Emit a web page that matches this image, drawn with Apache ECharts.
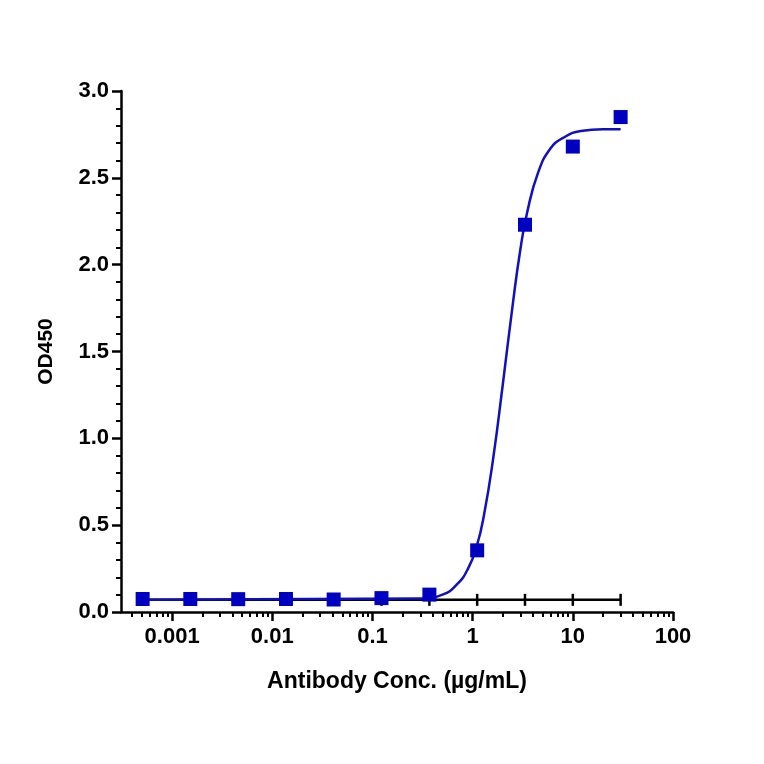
<!DOCTYPE html>
<html>
<head>
<meta charset="utf-8">
<script src="https://cdn.jsdelivr.net/npm/echarts@6/dist/echarts.min.js"></script>
<style>html,body{margin:0;background:#fff}#main{width:764px;height:764px}</style>
</head>
<body>
<div id="main"></div>
<script>
// measured points (ug/mL, OD450)
const conc = [0.000508, 0.00152, 0.00457, 0.0137, 0.041, 0.123, 0.37, 1.11, 3.33, 10, 30];
const od = [0.075, 0.075, 0.074, 0.075, 0.072, 0.08, 0.1, 0.355, 2.23, 2.68, 2.85];
// fitted curve
const fitConc = [0.0005, 0.3, 0.5, 0.7, 0.9, 1.1, 1.3, 1.6, 2.0, 2.5, 3.0, 3.5, 4.5, 6, 8, 12, 20, 30];
const fitOd = [0.07, 0.078, 0.1, 0.16, 0.25, 0.38, 0.56, 0.88, 1.31, 1.76, 2.09, 2.3, 2.53, 2.67, 2.73, 2.77, 2.78, 2.78];
const xTickLabels = ['0.001', '0.01', '0.1', '1', '10', '100'];

const lg = v => Math.log10(v);
const xMin = -3.51;
const majors = xTickLabels.map(s => lg(parseFloat(s)));
const minors = [];
for (let d = -4; d < 2; d++) for (let k = 2; k <= 9; k++) {
  const v = d + lg(k);
  if (v > xMin && v < 2) minors.push(v);
}
const font = {fontFamily: 'Liberation Sans', fontWeight: 'bold', color: '#000'};

const myChart = echarts.init(document.getElementById('main'));
myChart.setOption({
  animation: false,
  grid: {left: 121, right: 91, top: 91, bottom: 152},
  xAxis: [{
    type: 'value', min: xMin, max: 2,
    axisLine: {lineStyle: {color: '#000', width: 2.5}},
    axisTick: {customValues: majors, length: 9, lineStyle: {color: '#000', width: 2.5}},
    axisLabel: {customValues: majors, formatter: v => xTickLabels[majors.findIndex(m => Math.abs(m - v) < 1e-6)],
      ...font, fontSize: 22, margin: 14},
    splitLine: {show: false},
    name: 'Antibody Conc. (µg/mL)', nameLocation: 'middle', nameGap: 58,
    nameTextStyle: {...font, fontSize: 23}
  }, {
    type: 'value', min: xMin, max: 2, position: 'bottom',
    axisLine: {show: false},
    axisTick: {customValues: minors, length: 5, lineStyle: {color: '#000', width: 2}},
    axisLabel: {show: false}, splitLine: {show: false}
  }],
  yAxis: {
    type: 'value', min: 0, max: 3, interval: 0.5,
    axisLine: {show: true, onZero: false, lineStyle: {color: '#000', width: 2.5}},
    axisTick: {length: 9, lineStyle: {color: '#000', width: 2.5}},
    minorTick: {show: true, splitNumber: 5, length: 5, lineStyle: {color: '#000', width: 2}},
    axisLabel: {formatter: v => v.toFixed(1), ...font, fontSize: 22, margin: 12},
    splitLine: {show: false},
    name: 'OD450', nameLocation: 'middle', nameGap: 64,
    nameTextStyle: {...font, fontSize: 21}
  },
  series: [{
    type: 'line', z: 1,
    data: conc.map(c => [lg(c), 0.07]),
    symbol: 'rect', symbolSize: [2.5, 12], itemStyle: {color: '#000'},
    lineStyle: {color: '#000', width: 2.5}
  }, {
    type: 'line', smooth: true, symbol: 'none', z: 2,
    data: fitConc.map((c, i) => [lg(c), fitOd[i]]),
    lineStyle: {color: '#1010c0', width: 2.5}
  }, {
    type: 'scatter', z: 3, symbol: 'rect', symbolSize: 14,
    data: conc.map((c, i) => [lg(c), od[i]]),
    itemStyle: {color: '#0000c0', opacity: 1}
  }]
});
</script>
</body>
</html>
